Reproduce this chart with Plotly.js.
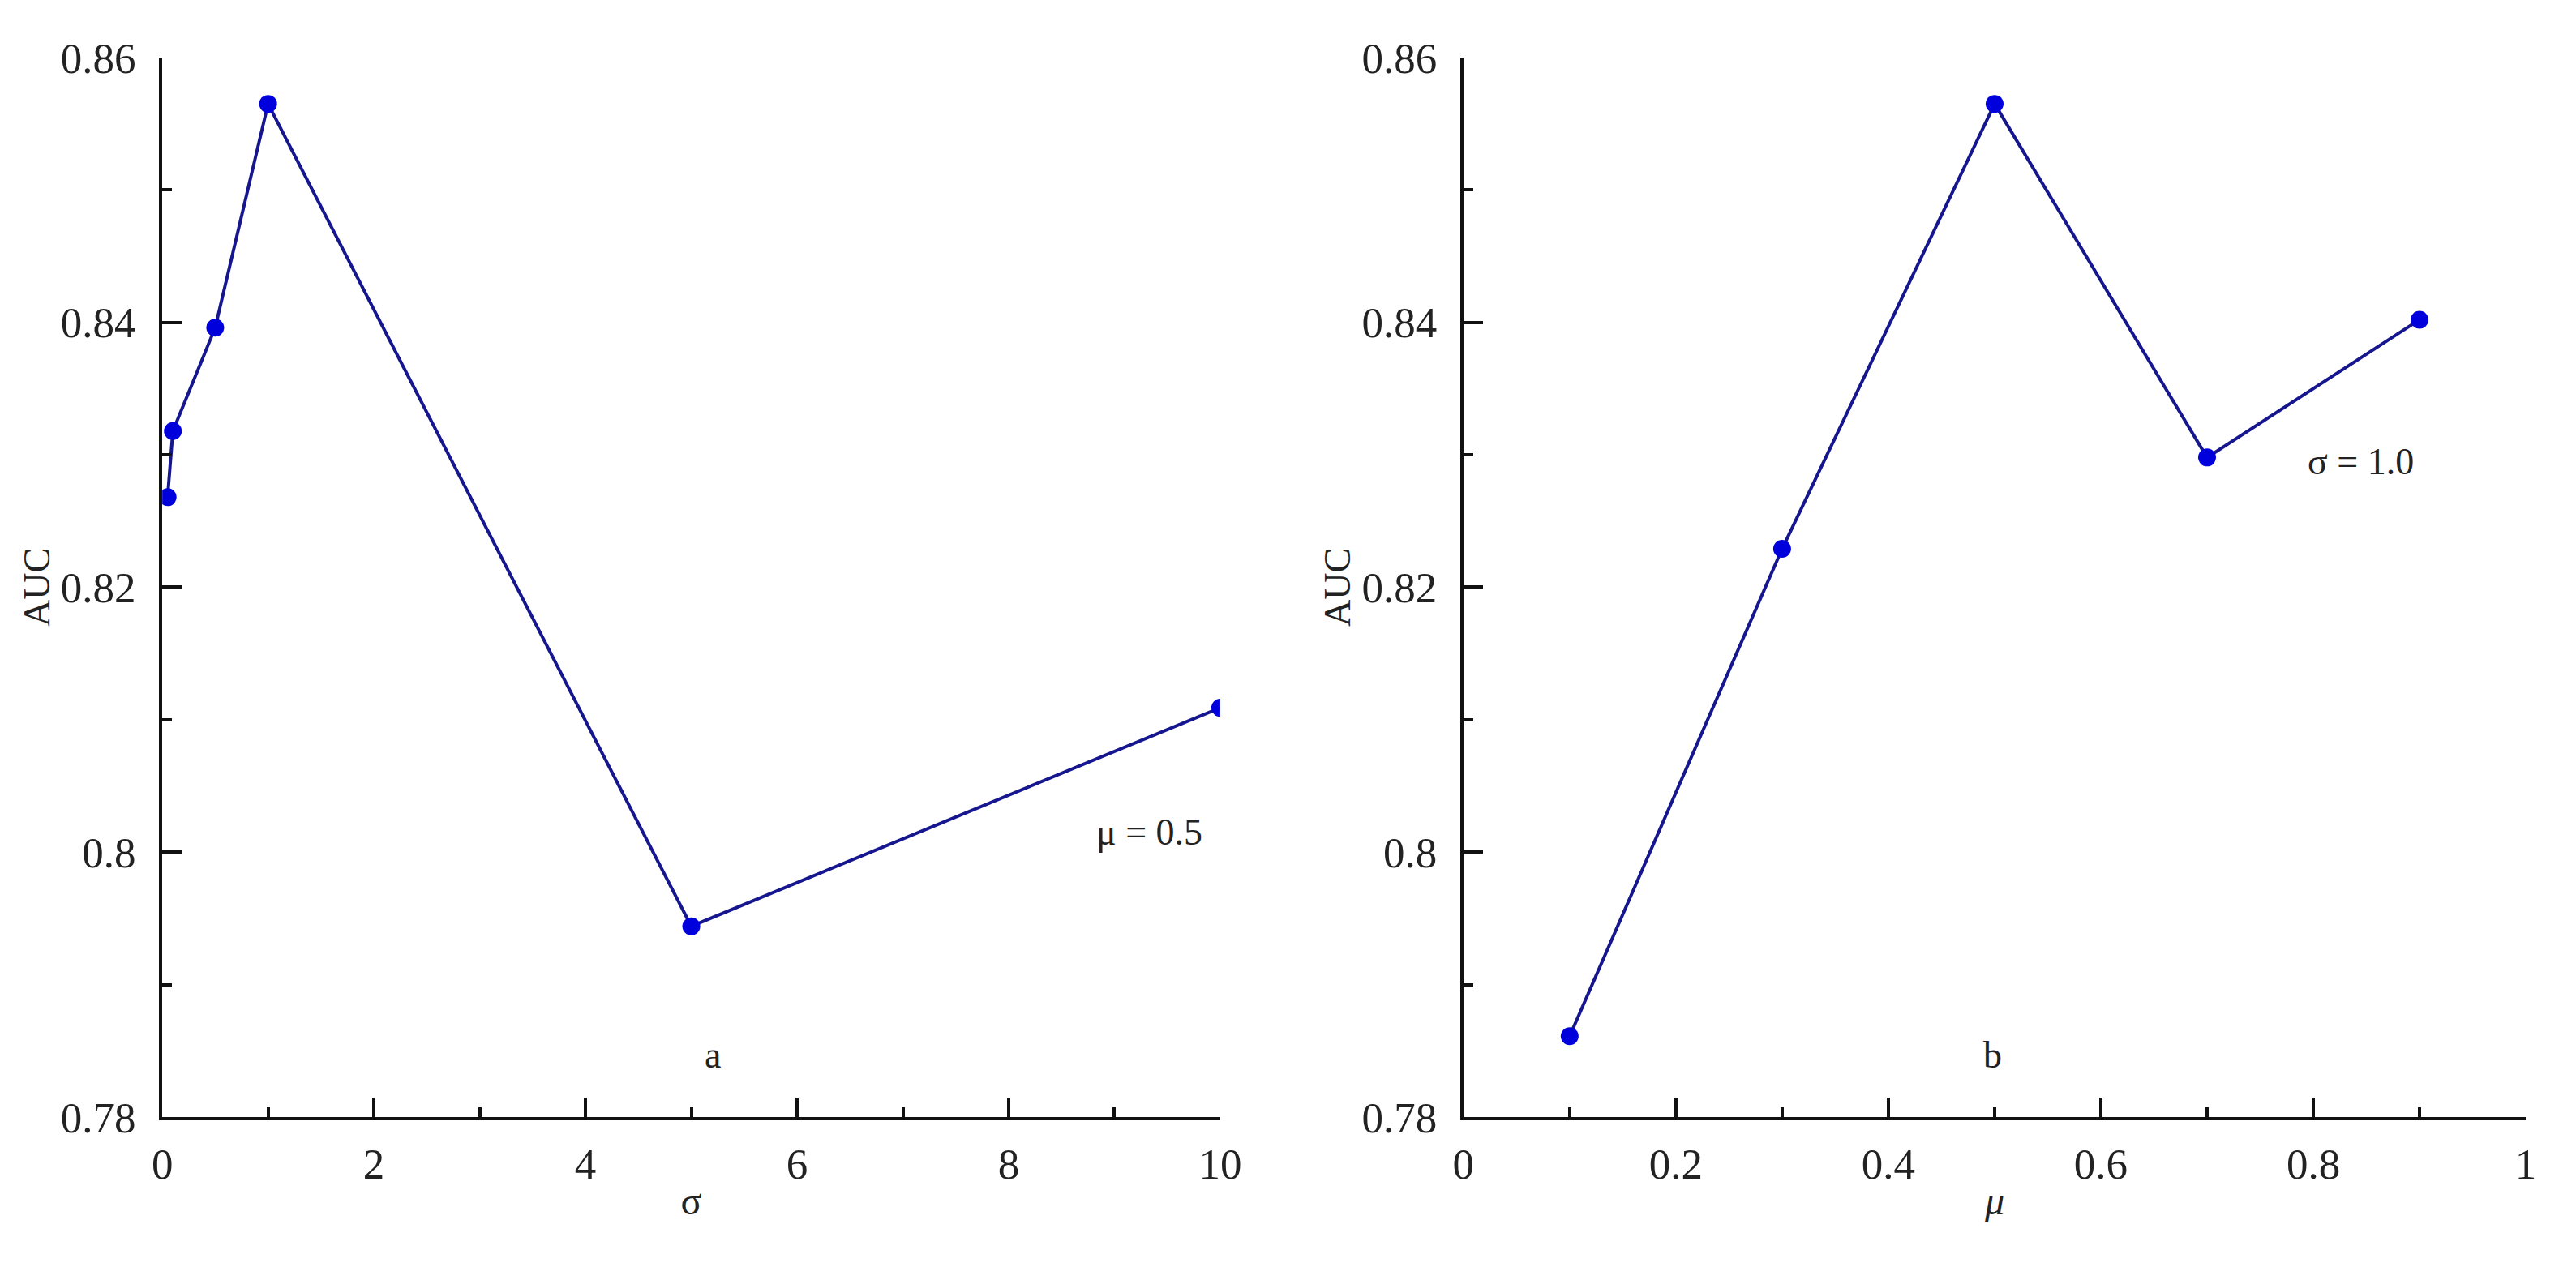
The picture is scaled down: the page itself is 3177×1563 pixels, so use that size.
<!DOCTYPE html>
<html>
<head>
<meta charset="utf-8">
<script src="https://cdn.plot.ly/plotly-3.0.1.min.js"></script>
<style>html,body{margin:0;padding:0;background:#fff;}#chart{width:3177px;height:1563px;}</style>
</head>
<body>
<div id="chart"></div>
<script>
// Panel a: AUC vs sigma (mu = 0.5)
const sigmaValues = [0.05, 0.1, 0.5, 1, 5, 10];
const aucBySigma = [0.8268, 0.8318, 0.8396, 0.8565, 0.7944, 0.8109];
// Panel b: AUC vs mu (sigma = 1.0)
const muValues = [0.1, 0.3, 0.5, 0.7, 0.9];
const aucByMu = [0.7861, 0.8229, 0.8565, 0.8298, 0.8402];

const FONT = "Liberation Serif, Times New Roman, serif";
const lineColor = "#16168f";
const markerColor = "#0000dd";

function trace(x, y, xa, ya) {
  return {
    x: x, y: y, xaxis: xa, yaxis: ya,
    type: "scatter", mode: "lines+markers",
    line: {color: lineColor, width: 4},
    marker: {color: markerColor, size: 22},
    showlegend: false, hoverinfo: "skip"
  };
}

function xax(domain, range, dtick, minorDtick, titleText) {
  return {
    domain: domain, range: range, dtick: dtick, tick0: 0,
    showgrid: false, zeroline: false,
    showline: true, linecolor: "#111", linewidth: 4,
    ticks: "inside", ticklen: 24, tickwidth: 4, tickcolor: "#111",
    minor: {dtick: minorDtick, ticks: "inside", ticklen: 12, tickwidth: 4, tickcolor: "#111", showgrid: false},
    tickfont: {family: FONT, size: 53, color: "#222"},
    ticklabelstandoff: 8,
    title: {text: titleText, font: {family: FONT, size: 48, color: "#222"}, standoff: 2},
    fixedrange: true
  };
}
function yax(anchor) {
  return {
    domain: [0.1184, 0.9546], range: [0.78, 0.86], dtick: 0.02, tick0: 0.78,
    anchor: anchor,
    showgrid: false, zeroline: false,
    showline: true, linecolor: "#111", linewidth: 4,
    ticks: "inside", ticklen: 24, tickwidth: 4, tickcolor: "#111",
    minor: {dtick: 0.01, ticks: "inside", ticklen: 12, tickwidth: 4, tickcolor: "#111", showgrid: false},
    tickfont: {family: FONT, size: 53, color: "#222"},
    tickformat: ".2~f",
    ticklabelstandoff: 18,
    title: {text: "AUC", font: {family: FONT, size: 46, color: "#222"}, standoff: 0},
    fixedrange: true
  };
}

const data = [
  trace(sigmaValues, aucBySigma, "x", "y"),
  trace(muValues, aucByMu, "x2", "y2")
];

const annFont = {family: FONT, size: 46, color: "#222"};
const layout = {
  width: 3177, height: 1563,
  margin: {l: 0, r: 0, t: 0, b: 0},
  paper_bgcolor: "#fff", plot_bgcolor: "#fff",
  xaxis: Object.assign(xax([0.0630, 0.4737], [0, 10], 2, 1, "σ"), {anchor: "y"}),
  yaxis: yax("x"),
  xaxis2: Object.assign(xax([0.5681, 0.9805], [0, 1], 0.2, 0.1, "<i>μ</i>"), {anchor: "y2"}),
  yaxis2: yax("x2"),
  annotations: [
    {text: "a", xref: "x", yref: "y", x: 5.2, y: 0.7847, showarrow: false, font: annFont},
    {text: "μ = 0.5", xref: "x", yref: "y", x: 9.33, y: 0.8015, showarrow: false, font: annFont},
    {text: "b", xref: "x2", yref: "y2", x: 0.498, y: 0.7847, showarrow: false, font: annFont},
    {text: "σ = 1.0", xref: "x2", yref: "y2", x: 0.845, y: 0.8295, showarrow: false, font: annFont}
  ]
};

Plotly.newPlot("chart", data, layout, {staticPlot: true, displayModeBar: false});
</script>
</body>
</html>
